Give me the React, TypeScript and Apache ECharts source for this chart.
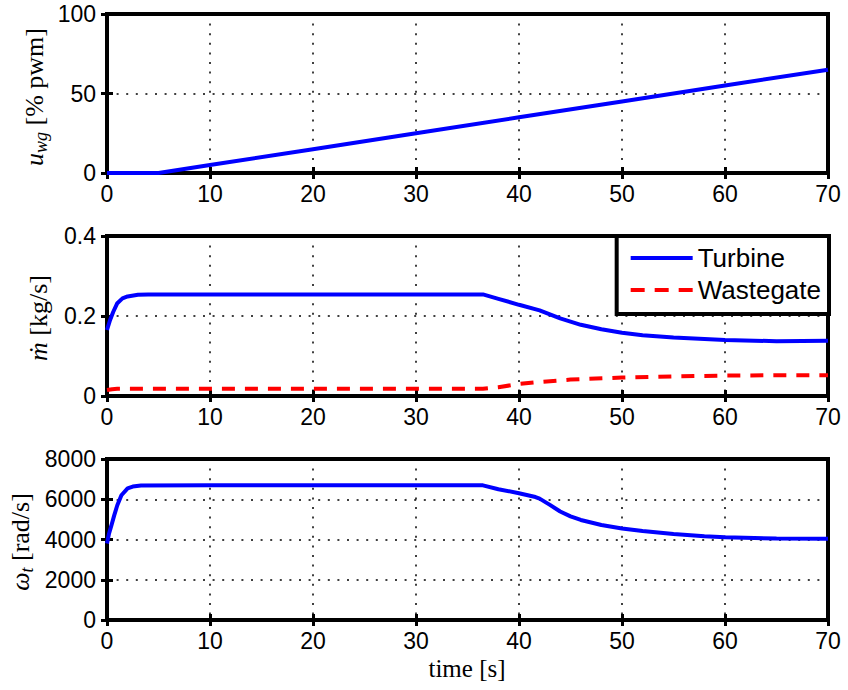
import React, { useEffect, useRef } from "react";
import * as echarts from "echarts";

// Time axis (s)
const timeMin = 0;
const timeMax = 70;
const timeStep = 10;

// Wastegate actuator command u_wg [% pwm] : [time, value]
const wastegateCommand: [number, number][] = [
  [0, 0], [5, 0], [10, 5], [20, 15], [30, 25], [40, 35], [50, 45], [60, 55], [70, 65],
];

// Mass flow [kg/s] through the turbine : [time, value]
const turbineFlow: [number, number][] = [
  [0, 0.165], [0.3, 0.19], [0.6, 0.21], [1, 0.232], [1.5, 0.244], [2, 0.249], [3, 0.253],
  [4, 0.254], [10, 0.254], [20, 0.254], [30, 0.254], [36.5, 0.254], [38, 0.243],
  [40, 0.228], [42, 0.214], [43, 0.204], [44, 0.194], [45, 0.186], [46, 0.178],
  [48, 0.167], [50, 0.158], [52, 0.152], [55, 0.146], [60, 0.14], [65, 0.137], [70, 0.138],
];

// Mass flow [kg/s] through the wastegate : [time, value]
const wastegateFlow: [number, number][] = [
  [0, 0.015], [0.5, 0.017], [1, 0.018], [10, 0.018], [20, 0.018], [30, 0.018], [36.5, 0.018],
  [38, 0.022], [40, 0.03], [42, 0.035], [45, 0.041], [50, 0.046], [55, 0.049],
  [60, 0.051], [65, 0.052], [70, 0.052],
];

// Turbine speed omega_t [rad/s] : [time, value]
const turbineSpeed: [number, number][] = [
  [0, 3800], [0.2, 4300], [0.4, 4650], [0.7, 5200], [1, 5700], [1.4, 6200], [2, 6540],
  [2.5, 6630], [3.3, 6680], [10, 6690], [20, 6690], [30, 6690], [36.5, 6690], [38, 6500],
  [40, 6300], [41.6, 6110], [42, 6030], [43, 5720], [44, 5390], [45, 5150], [46, 4970],
  [48, 4720], [50, 4550], [52, 4420], [55, 4270], [58, 4160], [60, 4110], [65, 4050], [70, 4040],
];

// Y ranges of the three panels: [min, max, interval]
const pwmRange: [number, number, number] = [0, 100, 50];
const flowRange: [number, number, number] = [0, 0.4, 0.2];
const speedRange: [number, number, number] = [0, 8000, 2000];

const seriesNames = ["Turbine", "Wastegate"];

const SANS = "'Liberation Sans', Arial, Helvetica, sans-serif";
const SERIF = "'Liberation Serif', 'Times New Roman', serif";
const BLUE = "#0000ff";
const RED = "#ff0000";

// Legend swatches: a solid bar and three dashes
const solidIcon = "path://M0,0h62v4h-62z";
const dashedIcon = "path://M0,0h14v4h-14z M24,0h14v4h-14z M48,0h14v4h-14z";

const dotted = { color: "#000", width: 1.5, type: [2, 7.6] as number[] };
const tickStyle = { show: true, inside: true, length: 6, lineStyle: { color: "#000", width: 3 } };
const plainNumber = (v: number) => String(v);

function xAxes(gridIndex: number) {
  const base = {
    type: "value" as const,
    gridIndex,
    min: timeMin,
    max: timeMax,
    interval: timeStep,
    axisLine: { show: false },
    axisTick: tickStyle,
  };
  return [
    {
      ...base,
      position: "bottom" as const,
      axisLabel: { color: "#000", fontSize: 23, fontFamily: SANS, margin: 9, formatter: plainNumber },
      splitLine: { show: true, lineStyle: dotted },
    },
    {
      ...base,
      position: "top" as const,
      axisLabel: { show: false },
      splitLine: { show: false },
    },
  ];
}

function yAxes(gridIndex: number, range: [number, number, number]) {
  const base = {
    type: "value" as const,
    gridIndex,
    min: range[0],
    max: range[1],
    interval: range[2],
    axisLine: { show: false },
    axisTick: tickStyle,
  };
  return [
    {
      ...base,
      position: "left" as const,
      axisLabel: { color: "#000", fontSize: 23, fontFamily: SANS, margin: 11, formatter: plainNumber },
      splitLine: { show: true, lineStyle: dotted },
    },
    {
      ...base,
      position: "right" as const,
      axisLabel: { show: false },
      splitLine: { show: false },
    },
  ];
}

const mathRich = {
  i: { fontFamily: SERIF, fontStyle: "italic", fontSize: 26, color: "#000" },
  s: { fontFamily: SERIF, fontStyle: "italic", fontSize: 18, color: "#000", padding: [13, 0, 0, 0] },
  r: { fontFamily: SERIF, fontSize: 26, color: "#000" },
};

export default function App() {
  const ref = useRef<HTMLDivElement>(null);

  useEffect(() => {
    if (!ref.current) return;
    const chart = echarts.init(ref.current, undefined, { renderer: "svg" });

    const xs = [...xAxes(0), ...xAxes(1), ...xAxes(2)];
    const ys = [...yAxes(0, pwmRange), ...yAxes(1, flowRange), ...yAxes(2, speedRange)];
    const frame = { left: 107, width: 721, show: true, borderColor: "#000", borderWidth: 4, backgroundColor: "transparent" };

    chart.setOption({
      animation: false,
      backgroundColor: "#fff",
      grid: [
        { ...frame, top: 14, height: 159 },
        { ...frame, top: 236, height: 160 },
        { ...frame, top: 459, height: 161 },
      ],
      xAxis: xs,
      yAxis: ys,
      legend: {
        data: [
          { name: seriesNames[0], icon: solidIcon },
          { name: seriesNames[1], icon: dashedIcon },
        ],
        orient: "vertical",
        right: 19,
        top: 236,
        itemWidth: 62,
        itemHeight: 4,
        itemGap: 6,
        itemTextGap: 8,
        padding: [9, 8, 11, 14],
        backgroundColor: "#fff",
        borderColor: "#000",
        borderWidth: 4,
        borderRadius: 0,
        textStyle: { color: "#000", fontSize: 26, fontFamily: SANS },
        z: 10,
      },
      graphic: [
        {
          type: "text",
          x: 34,
          y: 97,
          rotation: Math.PI / 2,
          style: { text: "{i|u}{s|wg}{r| [% pwm]}", rich: mathRich, align: "center", verticalAlign: "middle" },
        },
        {
          type: "text",
          x: 38,
          y: 318,
          rotation: Math.PI / 2,
          style: { text: "{i|\u1e41}{r| [kg/s]}", rich: mathRich, align: "center", verticalAlign: "middle" },
        },
        {
          type: "text",
          x: 20,
          y: 542,
          rotation: Math.PI / 2,
          style: { text: "{i|\u03c9}{s|t}{r| [rad/s]}", rich: mathRich, align: "center", verticalAlign: "middle" },
        },
        {
          type: "text",
          x: 467,
          y: 668,
          style: { text: "time [s]", fontFamily: SERIF, fontSize: 25, fill: "#000", align: "center", verticalAlign: "middle" },
        },
      ],
      series: [
        {
          type: "line",
          xAxisIndex: 0,
          yAxisIndex: 0,
          data: wastegateCommand,
          symbol: "none",
          lineStyle: { color: BLUE, width: 4 },
          itemStyle: { color: BLUE },
        },
        {
          name: seriesNames[0],
          type: "line",
          xAxisIndex: 2,
          yAxisIndex: 2,
          data: turbineFlow,
          symbol: "none",
          lineStyle: { color: BLUE, width: 4 },
          itemStyle: { color: BLUE },
        },
        {
          name: seriesNames[1],
          type: "line",
          xAxisIndex: 2,
          yAxisIndex: 2,
          data: wastegateFlow,
          symbol: "none",
          lineStyle: { color: RED, width: 4, type: [13, 10] },
          itemStyle: { color: RED },
        },
        {
          type: "line",
          xAxisIndex: 4,
          yAxisIndex: 4,
          data: turbineSpeed,
          symbol: "none",
          lineStyle: { color: BLUE, width: 4 },
          itemStyle: { color: BLUE },
        },
      ],
    });

    return () => chart.dispose();
  }, []);

  return <div ref={ref} style={{ width: 848, height: 690, position: "absolute", left: 0, top: 0 }} />;
}
